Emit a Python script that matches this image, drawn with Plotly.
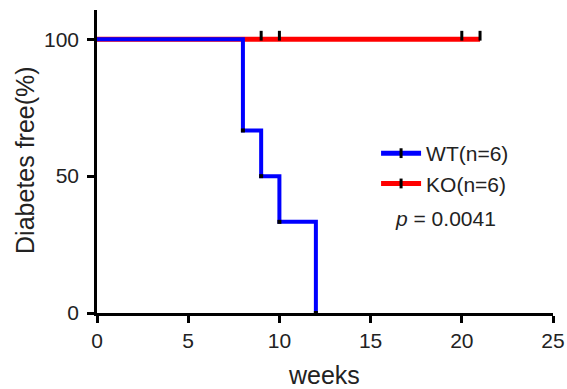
import plotly.graph_objects as go

# Data
wt_weeks = [0, 8, 9, 10, 12]
wt_surv = [100, 66.7, 50, 33.3, 0]
wt_events_x = [8, 9, 10, 12]
wt_events_y = [66.7, 50, 33.3, 0]
ko_weeks = [0, 21]
ko_surv = [100, 100]
ko_censor_x = [9, 10, 20, 21]
ko_censor_y = [100, 100, 100, 100]
x_ticks = [0, 5, 10, 15, 20, 25]
y_ticks = [0, 50, 100]

FONT = "Liberation Sans, Arial, sans-serif"
TXT = "#222222"
fig = go.Figure()

fig.add_trace(go.Scatter(x=ko_weeks, y=ko_surv, mode="lines", line=dict(color="#ff0000", width=5),
                         line_shape="hv", showlegend=False))
fig.add_trace(go.Scatter(x=wt_weeks + [12], y=wt_surv + [0], mode="lines", line=dict(color="#0000ff", width=4),
                         line_shape="hv", showlegend=False))
fig.add_trace(go.Scatter(x=wt_events_x, y=wt_events_y, mode="markers",
                         marker=dict(symbol="square", size=4, color="black"), showlegend=False))
fig.add_trace(go.Scatter(x=ko_censor_x, y=[v + 1.3 for v in ko_censor_y], mode="markers",
                         marker=dict(symbol="line-ns", size=7, line=dict(color="black", width=3)),
                         showlegend=False))

# legend entries
fig.add_trace(go.Scatter(x=[None], y=[None], mode="lines+markers", name="WT(n=6)", legendgroup="a",
                         line=dict(color="#0000ff", width=5),
                         marker=dict(symbol="line-ns", size=7, line=dict(color="black", width=3))))
fig.add_trace(go.Scatter(x=[None], y=[None], mode="lines+markers", name="KO(n=6)", legendgroup="b",
                         line=dict(color="#ff0000", width=5),
                         marker=dict(symbol="line-ns", size=7, line=dict(color="black", width=3))))

fig.add_annotation(x=0.649, y=0.3135, xref="paper", yref="paper", xanchor="left", yanchor="middle",
                   text="<i>p</i> = 0.0041", showarrow=False, font=dict(size=21, color=TXT, family=FONT))
fig.add_annotation(x=0.498, y=-0.205, xref="paper", yref="paper", xanchor="center", yanchor="middle",
                   text="weeks", showarrow=False, font=dict(size=25, color=TXT, family=FONT))
fig.add_annotation(x=-0.158, y=0.505, xref="paper", yref="paper", xanchor="center", yanchor="middle",
                   text="Diabetes free(%)", textangle=-90, showarrow=False,
                   font=dict(size=25, color=TXT, family=FONT))

fig.update_layout(
    width=567, height=389,
    margin=dict(l=97, r=14, t=10, b=76),
    plot_bgcolor="white", paper_bgcolor="white",
    font=dict(family=FONT, color=TXT, size=21),
    legend=dict(x=0.612, y=0.594, xanchor="left", yanchor="top", bgcolor="rgba(0,0,0,0)",
                font=dict(size=21), traceorder="grouped", tracegroupgap=0, itemwidth=40),
    xaxis=dict(range=[0, 25], tickvals=x_ticks, showline=True, linecolor="black", linewidth=2.5,
               ticks="outside", ticklen=7, tickwidth=2.5, tickcolor="black", showgrid=False,
               zeroline=False, automargin=False, tickfont=dict(size=21)),
    yaxis=dict(range=[0, 110.7], tickvals=y_ticks, showline=True, linecolor="black", linewidth=2.5,
               ticks="outside", ticklen=7, tickwidth=2.5, tickcolor="black", showgrid=False,
               zeroline=False, automargin=False, tickfont=dict(size=21), ticklabelstandoff=4),
)

fig.write_html("out.html", config={"displayModeBar": False},
               post_script="document.body.style.margin='0';document.body.style.overflow='hidden';")
